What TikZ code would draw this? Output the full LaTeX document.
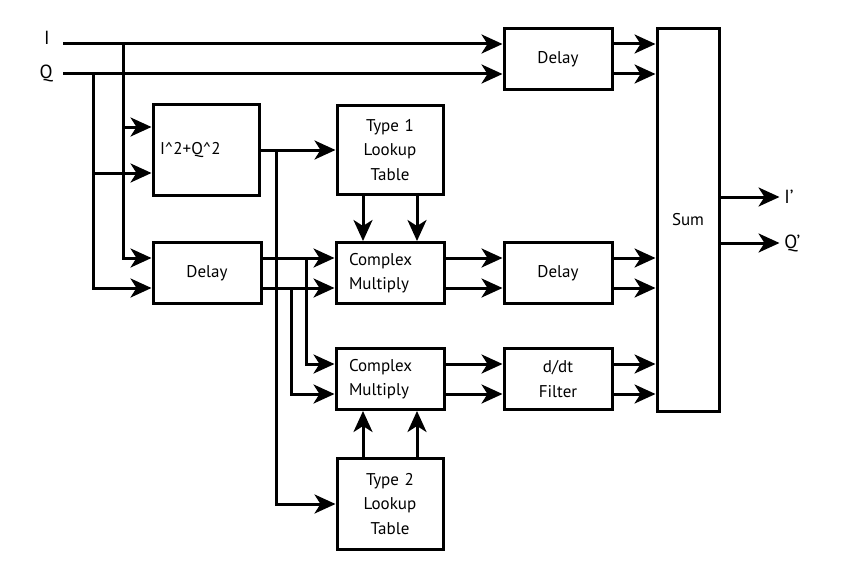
\documentclass[tikz,border=0pt]{standalone}
\usepackage{fontspec}
\setmainfont{PT Sans}
\usetikzlibrary{arrows.meta,positioning}

\begin{document}
\begin{tikzpicture}[x=1pt,y=-1pt,line width=3pt,>={Stealth[length=21pt,width=19pt,inset=6pt]},
    block/.style={draw,minimum width=108pt,minimum height=61pt,inner sep=0pt,align=center},
    lblock/.style={block,text width=82pt,align=left},
    font=\fontsize{17}{24.5}\selectfont]
  \useasboundingbox (0,0) rectangle (850,575);

  \node[lblock,minimum width=106pt,minimum height=90pt,text width=92pt](SqSum)    at (206,150)   {I\textasciicircum2+Q\textasciicircum2};
  \node[block                                                         ](DelayIn)  at (207,273)   {Delay};
  \node[block,minimum width=106pt,minimum height=89pt,text width=84pt ](LutOne)   at (390,150)   {Type 1\\Lookup\\Table};
  \node[lblock                                                        ](CmulOne)  at (390,273)   {Complex\\Multiply};
  \node[lblock                                                        ](CmulTwo)  at (390,379)   {Complex\\Multiply};
  \node[block,minimum width=106pt,minimum height=91pt,text width=84pt,below=46pt of CmulTwo](LutTwo) {Type 2\\Lookup\\Table};
  \node[block                                                         ](DelayTop) at (558,59)    {Delay};
  \node[block                                                         ](DelayMid) at (558,273)   {Delay};
  \node[block                                                         ](Filter)   at (558,379)   {d/dt\\Filter};
  \node[block,minimum width=62pt,minimum height=382pt                 ](Sum)      at (688,220)   {Sum};

  \node[font=\fontsize{19}{24}\selectfont] (ILbl) at (47,38) {I};
  \node[font=\fontsize{19}{24}\selectfont] (QLbl) at (46,73) {Q};

  \coordinate (IStart) at (63,44);
  \coordinate (QStart) at (63,74);
  \coordinate (ITap)   at (123,44);
  \coordinate (QTap)   at (93,74);
  \coordinate (MagTap) at (276,150);
  \coordinate (ReTap)  at (306,258);
  \coordinate (ImTap)  at (291,288);

  \draw[->] (IStart) -- (IStart -| DelayTop.west);
  \draw[->] (QStart) -- (QStart -| DelayTop.west);
  \draw[->] (ITap)   |- ([yshift=23pt]SqSum.west);
  \draw[->] (ITap)   |- ([yshift=15pt]DelayIn.west);
  \draw[->] (QTap)   |- ([yshift=-23pt]SqSum.west);
  \draw[->] (QTap)   |- ([yshift=-15pt]DelayIn.west);
  \draw[->] (SqSum)  -- (LutOne);
  \draw[->] (MagTap) |- (LutTwo.west);
  \draw[->] (ReTap)  |- ([yshift=15pt]CmulTwo.west);
  \draw[->] (ImTap)  |- ([yshift=-15pt]CmulTwo.west);

  \foreach \a/\b in {DelayIn/CmulOne,CmulOne/DelayMid,CmulTwo/Filter,DelayTop/Sum,DelayMid/Sum,Filter/Sum}
    \foreach \s in {15pt,-15pt}
      \draw[->] ([yshift=\s]\a.east) -- ([yshift=\s]\a.east -| \b.west);

  \foreach \s in {-27pt,27pt} {
    \draw[->] ([xshift=\s]LutOne.south) -- ([xshift=\s]CmulOne.north);
    \draw[->] ([xshift=\s]LutTwo.north) -- ([xshift=\s]CmulTwo.south);
  }

  \draw[->] ([yshift=23pt]Sum.east)  -- ++(59,0) node[right,font=\fontsize{19}{24}\selectfont](IOut) {I’};
  \draw[->] ([yshift=-23pt]Sum.east) -- ++(59,0) node[right,font=\fontsize{19}{24}\selectfont](QOut) {Q’};
\end{tikzpicture}
\end{document}
